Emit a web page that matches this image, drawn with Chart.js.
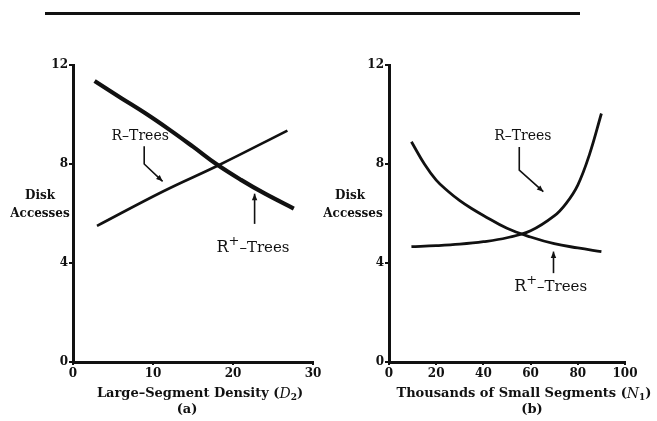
<!DOCTYPE html>
<html>
<head>
<meta charset="utf-8">
<script src="https://cdn.jsdelivr.net/npm/chart.js@4"></script>
<style>
  body { margin: 0; background: #fff; }
  #wrap { position: relative; width: 657px; height: 421px; }
  canvas { position: absolute; top: 0; }
  #rule { position: absolute; left: 45px; top: 12px; width: 535px; height: 3px; background: #111; }
</style>
</head>
<body>
<div id="wrap">
  <div id="rule"></div>
  <canvas id="chartA" width="330" height="421" style="left:0"></canvas>
  <canvas id="chartB" width="339" height="421" style="left:318px"></canvas>
</div>
<script>
// panel (a): disk accesses vs large-segment density
const aRTreesX = [3, 11.3, 18.2, 26.8];
const aRTreesY = [5.5, 6.9, 7.95, 9.35];
const aRPlusX = [2.7, 6, 9, 12, 15, 18, 21, 24, 27.6];
const aRPlusY = [11.35, 10.67, 10.06, 9.4, 8.7, 7.98, 7.36, 6.8, 6.2];
const aXTicks = [0, 10, 20, 30];

// panel (b): disk accesses vs thousands of small segments
const bRTreesX = [9.5, 20, 30, 40, 50, 60, 70, 75, 80, 85, 90];
const bRTreesY = [4.66, 4.7, 4.76, 4.86, 5.02, 5.3, 5.9, 6.4, 7.15, 8.4, 10.04];
const bRPlusX = [9.5, 15, 20, 25, 30, 35, 40, 50, 60, 70, 80, 90];
const bRPlusY = [8.9, 8.0, 7.35, 6.9, 6.52, 6.2, 5.92, 5.4, 5.05, 4.78, 4.61, 4.46];
const bXTicks = [0, 20, 40, 60, 80, 100];

const yTicks = [0, 4, 8, 12];

const SERIF = '"DejaVu Serif", "Liberation Serif", serif';

function pts(xs, ys) {
  return xs.map((x, i) => ({ x: x, y: ys[i] }));
}

function richText(ctx, parts, cx, y) {
  let w = 0;
  parts.forEach(p => { ctx.font = p[1]; w += ctx.measureText(p[0]).width; });
  let x = cx - w / 2;
  ctx.textAlign = 'left';
  ctx.textBaseline = 'middle';
  parts.forEach(p => {
    ctx.font = p[1];
    ctx.fillText(p[0], x, y + (p[2] || 0));
    x += ctx.measureText(p[0]).width;
  });
}

const rPlusLabel = [
  ['R', '16px ' + SERIF, 0],
  ['+', '13px ' + SERIF, -6],
  ['\u2013Trees', '15px ' + SERIF, 0]
];
const rLabel = [['R\u2013Trees', '14px ' + SERIF, 0]];

// labels, arrows and axis titles
const notes = {
  id: 'notes',
  afterDraw(chart, args, o) {
    const ctx = chart.ctx, xs = chart.scales.x, ys = chart.scales.y;
    const P = (v) => [xs.getPixelForValue(v[0]), ys.getPixelForValue(v[1])];
    ctx.save();
    ctx.fillStyle = '#111';
    ctx.strokeStyle = '#111';

    o.labels.forEach(l => {
      const p = P(l.at);
      richText(ctx, l.parts, p[0], p[1]);
    });

    ctx.lineWidth = 1.6;
    o.arrows.forEach(a => {
      const q = a.map(P);
      ctx.beginPath();
      ctx.moveTo(q[0][0], q[0][1]);
      for (let i = 1; i < q.length; i++) ctx.lineTo(q[i][0], q[i][1]);
      ctx.stroke();
      const e = q[q.length - 1], s = q[q.length - 2];
      const ang = Math.atan2(e[1] - s[1], e[0] - s[0]);
      ctx.beginPath();
      ctx.moveTo(e[0], e[1]);
      ctx.lineTo(e[0] - 7 * Math.cos(ang - 0.4), e[1] - 7 * Math.sin(ang - 0.4));
      ctx.lineTo(e[0] - 7 * Math.cos(ang + 0.4), e[1] - 7 * Math.sin(ang + 0.4));
      ctx.closePath();
      ctx.fill();
    });

    ctx.textAlign = 'center';
    ctx.textBaseline = 'middle';
    ctx.font = 'bold 12px ' + SERIF;
    ctx.fillText('Disk', o.yTitleX, 196);
    ctx.fillText('Accesses', o.yTitleX + o.yShift, 214);

    richText(ctx, o.xTitle, o.xTitleX, 394);
    ctx.font = 'bold 13px ' + SERIF;
    ctx.textAlign = 'center';
    ctx.fillText(o.sub, o.subX, 410);
    ctx.restore();
  }
};

function makeChart(id, cfg) {
  return new Chart(document.getElementById(id), {
    type: 'scatter',
    data: {
      datasets: [
        {
          label: 'R-Trees',
          data: pts(cfg.rx, cfg.ry),
          showLine: true,
          borderColor: '#111',
          borderWidth: cfg.rWidth,
          pointRadius: 0,
          tension: 0.4
        },
        {
          label: 'R+-Trees',
          data: pts(cfg.px, cfg.py),
          showLine: true,
          borderColor: '#111',
          borderWidth: cfg.pWidth,
          pointRadius: 0,
          tension: 0.4
        }
      ]
    },
    options: {
      responsive: false,
      animation: false,
      layout: { padding: { top: 65, right: cfg.padRight, left: 0, bottom: 0 } },
      plugins: {
        legend: { display: false },
        tooltip: { enabled: false },
        notes: cfg.notes
      },
      scales: {
        x: {
          type: 'linear',
          min: 0,
          max: cfg.xMax,
          afterBuildTicks: s => { s.ticks = cfg.xTicks.map(v => ({ value: v })); },
          afterFit: s => { s.height = 59; },
          border: { display: true, color: '#111', width: 3 },
          grid: { display: true, drawOnChartArea: false, color: '#111', lineWidth: 2, tickLength: 3 },
          ticks: { color: '#111', padding: 2, font: { family: SERIF, size: 12, weight: 'bold' } }
        },
        y: {
          min: 0,
          max: 12,
          afterBuildTicks: s => { s.ticks = yTicks.map(v => ({ value: v })); },
          afterFit: s => { s.width = cfg.yWidth; },
          border: { display: true, color: '#111', width: 3 },
          grid: { display: true, drawOnChartArea: false, color: '#111', lineWidth: 2, tickLength: 4 },
          ticks: { color: '#111', padding: 1, font: { family: SERIF, size: 12, weight: 'bold' } }
        }
      }
    },
    plugins: [notes]
  });
}

makeChart('chartA', {
  rx: aRTreesX, ry: aRTreesY, px: aRPlusX, py: aRPlusY,
  rWidth: 2.6, pWidth: 4.2,
  xMax: 30, xTicks: aXTicks, yWidth: 73, padRight: 17,
  notes: {
    labels: [
      { parts: rLabel, at: [8.4, 9.1] },
      { parts: rPlusLabel, at: [22.5, 4.62] }
    ],
    arrows: [
      [[8.9, 8.72], [8.9, 8.0], [11.2, 7.3]],
      [[22.7, 5.58], [22.7, 6.8]]
    ],
    yTitleX: 40, yShift: 0,
    xTitle: [
      ['Large\u2013Segment Density (', 'bold 13px ' + SERIF, 0],
      ['D', 'italic 14px ' + SERIF, 0],
      ['2', 'bold 9px ' + SERIF, 4],
      [')', 'bold 13px ' + SERIF, 0]
    ],
    xTitleX: 200, sub: '(a)', subX: 187
  }
});

makeChart('chartB', {
  rx: bRTreesX, ry: bRTreesY, px: bRPlusX, py: bRPlusY,
  rWidth: 2.8, pWidth: 2.8,
  xMax: 100, xTicks: bXTicks, yWidth: 71, padRight: 32,
  notes: {
    labels: [
      { parts: rLabel, at: [56.7, 9.12] },
      { parts: rPlusLabel, at: [68.5, 3.04] }
    ],
    arrows: [
      [[55.2, 8.69], [55.2, 7.75], [65.4, 6.88]],
      [[69.7, 3.59], [69.7, 4.46]]
    ],
    yTitleX: 32, yShift: 3,
    xTitle: [
      ['Thousands of Small Segments (', 'bold 13px ' + SERIF, 0],
      ['N', 'italic 14px ' + SERIF, 0],
      ['1', 'bold 9px ' + SERIF, 4],
      [')', 'bold 13px ' + SERIF, 0]
    ],
    xTitleX: 206, sub: '(b)', subX: 214
  }
});
</script>
</body>
</html>
